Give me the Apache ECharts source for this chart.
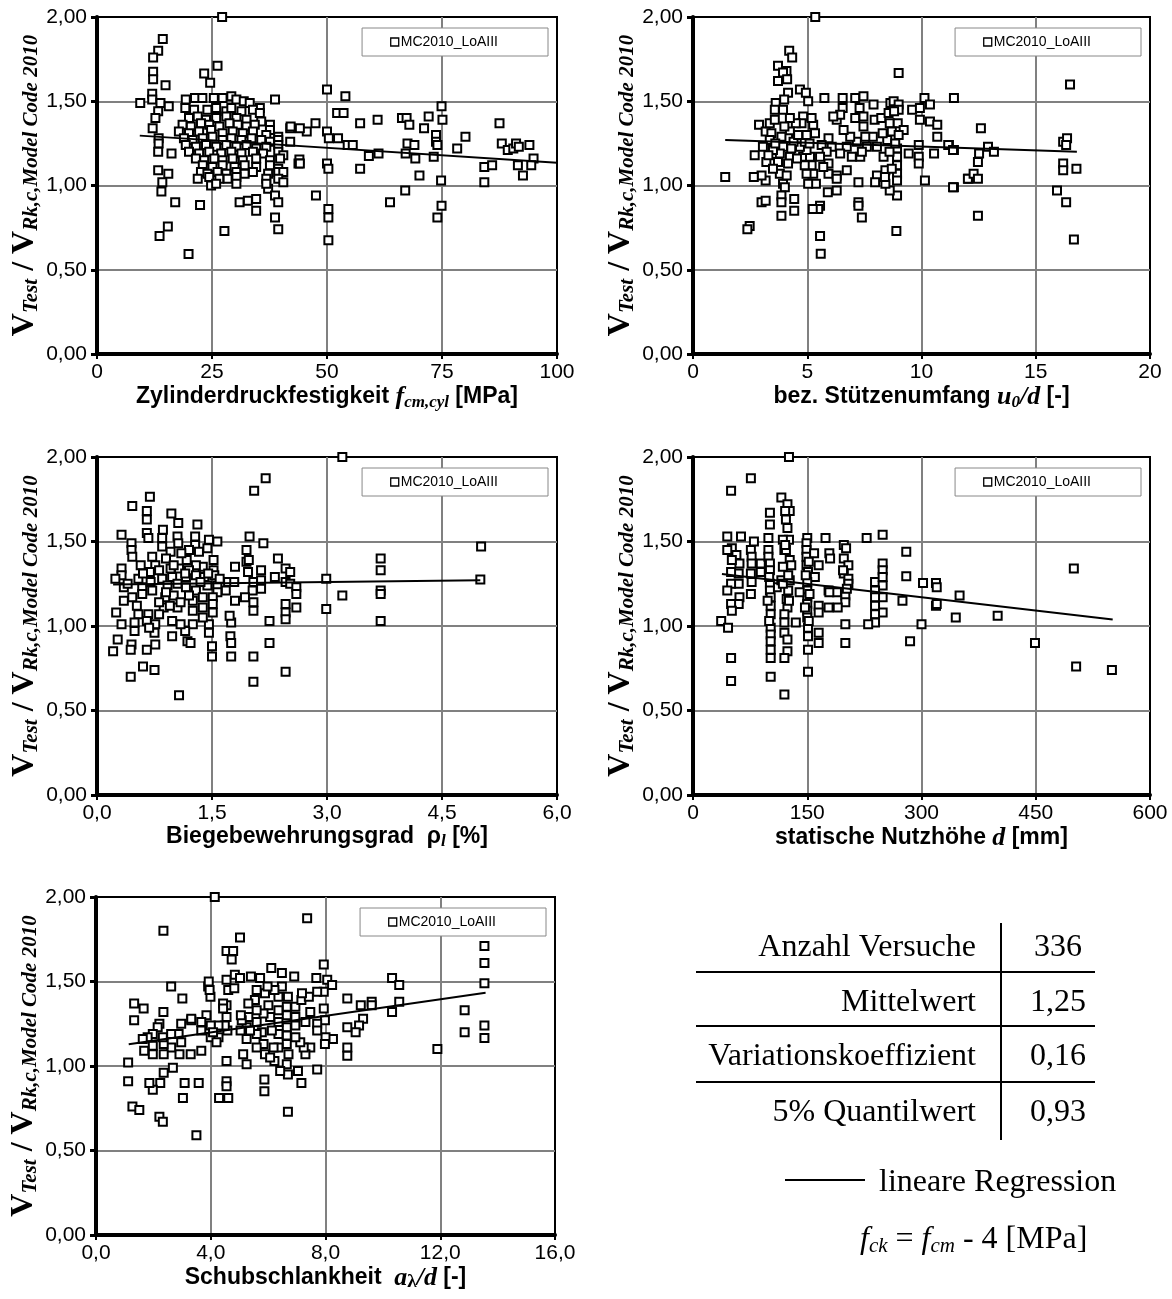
<!DOCTYPE html>
<html>
<head>
<meta charset="utf-8">
<script src="https://cdn.jsdelivr.net/npm/echarts@6/dist/echarts.min.js"></script>
<style>
  html, body { margin: 0; padding: 0; background: #fff; }
  #main { width: 1172px; height: 1299px; }
</style>
</head>
<body>
<div id="main"></div>
<script>
// V_Test / V_Rk,c over f_cm,cyl [MPa]
var fcmPoints = [
  [27.2,2.0],[14.3,1.87],[13.3,1.80],[12.2,1.76],[12.2,1.675],[12.2,1.63],[14.9,1.595],[23.3,1.665],[26.2,1.71],[24.6,1.61],
  [9.4,1.49],[12.0,1.545],[12.0,1.51],[13.8,1.49],[15.6,1.47],[13.3,1.44],[12.7,1.40],[12.1,1.34],[13.4,1.28],[13.4,1.25],
  [13.3,1.20],[16.2,1.19],[13.3,1.09],[15.5,1.07],[14.2,1.02],[14.0,0.965],[17.0,0.90],[22.4,0.885],[15.4,0.756],[13.6,0.70],
  [19.9,0.594],[27.7,0.73],[38.7,1.51],[42.0,1.34],[42.0,1.26],[44.0,1.155],[43.8,1.13],[31.0,0.90],[32.8,0.91],[34.6,0.92],
  [34.6,0.85],[37.2,0.98],[38.7,0.94],[39.4,0.90],[38.7,0.81],[39.4,0.74],[47.6,0.94],
  [19.3,1.51],[21.3,1.52],[22.9,1.52],[25.4,1.52],[27.3,1.52],[29.2,1.53],[30.3,1.51],[31.9,1.50],[33.2,1.49],[35.4,1.46],
  [19.2,1.46],[21.1,1.45],[24.0,1.45],[25.9,1.46],[28.1,1.44],[29.2,1.46],[31.4,1.44],[33.9,1.45],[35.4,1.43],
  [20.0,1.40],[21.9,1.41],[23.7,1.39],[25.9,1.40],[28.1,1.41],[30.3,1.40],[32.5,1.39],[35.7,1.38],[37.6,1.36],
  [18.6,1.36],[20.4,1.35],[22.6,1.37],[24.4,1.36],[26.6,1.35],[28.8,1.37],[30.6,1.36],[32.5,1.35],[34.3,1.36],[37.6,1.33],
  [17.8,1.32],[20.0,1.31],[22.2,1.32],[24.8,1.33],[27.3,1.31],[29.5,1.32],[31.7,1.31],[33.9,1.32],[36.8,1.30],[39.4,1.29],
  [18.9,1.28],[20.8,1.27],[23.0,1.28],[25.1,1.29],[27.3,1.27],[29.2,1.28],[31.4,1.27],[33.6,1.28],[35.7,1.27],[37.6,1.26],[39.4,1.27],
  [19.3,1.24],[21.5,1.23],[23.7,1.24],[25.9,1.23],[28.1,1.24],[30.3,1.23],[32.5,1.24],[34.6,1.22],[36.8,1.23],[39.4,1.24],
  [20.0,1.20],[22.2,1.19],[24.4,1.20],[27.0,1.19],[29.2,1.20],[31.4,1.19],[33.9,1.20],[36.1,1.19],[39.4,1.20],[40.5,1.18],
  [21.5,1.16],[23.3,1.15],[25.5,1.16],[27.3,1.15],[29.5,1.16],[31.7,1.15],[34.6,1.16],[37.6,1.15],[39.8,1.16],
  [23.0,1.12],[25.1,1.11],[27.3,1.12],[29.9,1.11],[32.1,1.12],[34.6,1.11],[37.6,1.12],[39.4,1.10],
  [22.6,1.08],[24.0,1.07],[26.2,1.08],[28.1,1.07],[30.3,1.08],[32.1,1.07],[33.9,1.08],[37.2,1.07],[39.4,1.08],[40.5,1.08],
  [21.9,1.04],[24.4,1.05],[26.6,1.04],[28.4,1.04],[30.3,1.05],[36.8,1.04],[39.4,1.04],[40.5,1.02],
  [24.8,1.00],[25.9,1.01],[30.3,1.01],[36.8,1.01],
  [50.0,1.57],[54.0,1.53],[52.2,1.43],[53.6,1.43],[52.4,1.28],[54.5,1.24],[55.6,1.24],[57.2,1.37],[59.1,1.175],[61.2,1.19],
  [61.0,1.39],[57.2,1.10],[63.7,0.90],[66.3,1.40],[67.3,1.40],[67.9,1.36],[67.5,1.25],[67.1,1.19],[69.0,1.24],[69.2,1.16],
  [67.0,0.97],[70.1,1.06],[71.1,1.34],[72.1,1.41],[73.2,1.17],[73.7,1.30],[73.7,1.26],[74.0,1.24],[74.9,1.47],[75.1,1.39],
  [74.8,1.03],[74.9,0.88],[74.0,0.81],[78.3,1.22],[80.1,1.29],[84.2,1.11],[84.2,1.02],[85.9,1.12],[87.5,1.37],[88.0,1.25],
  [89.3,1.21],[90.5,1.22],[91.1,1.25],[91.5,1.12],[92.6,1.06],[91.7,1.23],[94.0,1.24],[94.9,1.16],[94.4,1.12],[47.5,1.37],
  [45.6,1.32],[44.1,1.34],[42.1,1.35],[44.1,1.13],[50.0,1.13],[50.3,1.10],[50.3,0.86],[50.3,0.81],[50.3,0.675],[50.0,1.32],[50.4,1.28]
];
// over u0/d [-]
var u0dPoints = [
  [5.35,2.0],[4.21,1.80],[4.34,1.76],[3.72,1.71],[4.09,1.68],[3.94,1.67],[4.12,1.63],[3.72,1.62],[9.0,1.667],[4.68,1.57],
  [4.94,1.55],[5.04,1.50],[4.16,1.55],[3.99,1.51],[3.62,1.49],[3.58,1.45],[3.94,1.45],[2.89,1.36],[3.18,1.32],[5.75,1.52],
  [6.55,1.52],[6.55,1.46],[7.1,1.52],[7.46,1.53],[7.9,1.48],[7.29,1.46],[7.1,1.40],[7.46,1.41],[7.95,1.39],[8.24,1.40],
  [8.64,1.49],[8.78,1.50],[9.0,1.48],[9.0,1.45],[8.56,1.43],[8.61,1.37],[8.96,1.37],[9.22,1.33],[9.59,1.45],[9.93,1.46],
  [9.93,1.39],[10.13,1.52],[10.37,1.48],[10.37,1.38],[10.69,1.36],[10.69,1.29],[11.42,1.52],[11.2,1.24],[11.42,1.21],[12.05,1.04],
  [11.42,0.99],[10.15,1.03],[10.55,1.19],[9.88,1.17],[9.88,1.13],[9.88,1.24],[9.44,1.19],[8.93,1.22],[8.93,1.17],[8.93,1.12],
  [8.93,1.07],[8.93,1.03],[8.93,0.94],[8.9,0.73],[8.61,0.97],[8.42,1.01],[8.42,1.09],[8.05,1.06],[7.97,1.02],[8.34,1.17],
  [8.05,1.23],[7.87,1.29],[7.61,1.23],[7.32,1.17],[6.95,1.17],[7.39,1.20],[7.17,1.26],[6.88,1.29],[6.59,1.33],[6.29,1.39],
  [6.44,1.42],[6.14,1.41],[6.73,1.23],[6.44,1.19],[6.07,1.23],[5.93,1.28],[5.63,1.24],[5.93,1.13],[5.93,1.07],[6.29,1.06],
  [6.29,0.97],[5.9,0.96],[7.24,1.02],[7.24,0.90],[7.24,0.88],[7.39,0.81],[5.56,0.88],[5.48,0.86],[5.24,0.86],[5.56,0.70],
  [5.59,0.595],[5.38,1.01],[5.26,1.07],[5.19,1.12],[4.97,1.07],[4.89,1.12],[4.82,1.17],[5.12,1.17],[4.97,1.21],[4.68,1.23],
  [4.89,1.26],[4.97,1.30],[5.34,1.31],[5.26,1.36],[5.19,1.40],[4.82,1.41],[4.75,1.37],[4.5,1.37],[4.24,1.32],[4.16,1.28],
  [3.87,1.29],[3.94,1.23],[3.8,1.19],[3.72,1.14],[3.8,1.07],[3.94,1.01],[4.02,0.99],[3.87,0.94],[3.87,0.90],[3.87,0.82],
  [4.43,0.92],[4.43,0.85],[3.21,1.14],[3.18,1.03],[3.0,1.06],[2.7,1.18],[2.66,1.05],[3.0,0.90],[3.18,0.91],[2.48,0.76],
  [2.38,0.74],[1.41,1.05],[3.36,1.37],[3.43,1.31],[3.58,1.39],[4.24,1.40],[4.4,1.26],[3.36,1.27],[3.06,1.23],[3.5,1.21],
  [4.24,1.17],[4.16,1.13],[5.04,1.01],[6.29,1.04],[6.73,1.09],[5.85,1.20],[5.56,1.17],[5.7,1.11],[7.46,1.35],[7.54,1.29],
  [8.8,1.44],[8.7,1.32],[8.5,1.27],[8.85,1.25],[9.0,1.30],[8.6,1.20],[8.3,1.31],[8.7,1.10],[8.4,1.05],
  [3.3,1.18],[3.6,1.25],[4.0,1.35],[4.3,1.22],[4.6,1.30],[4.55,1.16],[5.1,1.25],[3.5,1.10],[4.1,1.06],
  [11.17,1.24],[11.38,1.21],[11.38,0.99],[12.03,1.04],[12.28,1.07],[12.47,1.04],[12.47,1.14],[12.52,1.19],[12.6,1.34],[12.91,1.23],
  [13.17,1.20],[12.47,0.82],[15.93,0.97],[16.2,1.26],[16.37,1.28],[16.33,1.24],[16.2,1.13],[16.2,1.09],[16.33,0.90],[16.5,1.60],
  [16.78,1.10],[16.67,0.68]
];
// over rho_l [%]
var rhoPoints = [
  [3.2,2.0],[2.20,1.875],[2.05,1.80],[0.69,1.765],[0.46,1.71],[0.65,1.68],[0.65,1.63],[0.97,1.665],[1.06,1.61],[1.31,1.60],
  [0.86,1.57],[0.32,1.54],[1.99,1.53],[2.17,1.49],[1.95,1.45],[2.36,1.40],[0.45,1.49],[0.45,1.45],[0.46,1.41],[0.65,1.55],
  [0.67,1.52],[0.85,1.52],[0.85,1.47],[1.05,1.53],[1.06,1.49],[0.96,1.44],[1.28,1.53],[1.28,1.48],[1.46,1.51],[1.57,1.50],
  [1.44,1.46],[1.33,1.44],[1.20,1.45],[1.17,1.39],[1.52,1.39],[1.52,1.33],[1.38,1.35],[1.29,1.36],[0.57,1.36],[0.72,1.41],
  [0.76,1.36],[0.81,1.33],[0.69,1.32],[0.32,1.34],[0.32,1.30],[0.24,1.28],[0.35,1.23],[0.54,1.28],[0.59,1.23],[0.85,1.28],
  [0.98,1.29],[0.96,1.34],[1.07,1.34],[1.16,1.29],[1.20,1.33],[1.29,1.30],[1.40,1.29],[1.53,1.30],[0.92,1.24],[1.05,1.25],
  [1.16,1.23],[1.29,1.21],[1.44,1.24],[1.57,1.24],[1.71,1.26],[1.79,1.26],[1.80,1.35],[1.95,1.38],[1.98,1.39],[1.97,1.32],
  [2.04,1.26],[2.14,1.33],[2.14,1.27],[2.14,1.22],[2.32,1.29],[2.46,1.34],[2.52,1.32],[2.46,1.26],[2.52,1.25],[2.60,1.23],
  [2.60,1.19],[2.60,1.11],[2.46,1.13],[2.46,1.08],[2.46,1.04],[2.25,1.03],[2.25,0.90],[2.46,0.73],[2.99,1.28],[3.2,1.18],
  [2.99,1.10],[2.03,1.21],[1.93,1.17],[2.04,1.14],[2.04,1.09],[2.04,0.82],[2.04,0.67],[1.80,1.15],[1.75,1.02],[1.73,1.06],
  [1.74,0.94],[1.75,0.90],[1.75,0.82],[1.68,1.21],[1.57,1.20],[1.51,1.17],[1.51,1.13],[1.51,1.08],[1.46,1.01],[1.46,0.96],
  [1.50,0.88],[1.50,0.82],[1.38,1.17],[1.38,1.11],[1.25,1.15],[1.25,1.01],[1.18,0.91],[1.22,0.90],[1.15,0.97],[1.09,1.01],
  [1.05,1.11],[0.98,1.03],[0.98,0.94],[0.89,1.17],[0.87,1.11],[0.81,1.07],[0.76,1.01],[0.75,0.96],[0.76,0.89],[0.75,0.74],
  [0.67,1.07],[0.65,1.03],[0.68,0.99],[0.65,0.86],[0.60,0.76],[0.45,0.89],[0.44,0.86],[0.44,0.70],[0.54,1.07],[0.49,1.02],
  [0.49,0.97],[0.32,1.01],[0.27,0.92],[0.21,0.85],[0.25,1.08],[0.35,1.15],[0.46,1.17],[0.59,1.19],[0.52,1.12],[1.07,0.59],
  [1.0,1.18],[1.09,1.14],[1.25,1.09],[1.38,1.05],[0.81,1.14],[0.72,1.21],
  [0.9,1.40],[1.1,1.43],[1.0,1.36],[1.15,1.31],[0.7,1.26],[0.6,1.31],[0.4,1.25],[0.9,1.20],[1.35,1.26],[1.45,1.31],
  [1.6,1.28],[1.2,1.18],[0.95,1.12],
  [3.70,1.40],[3.70,1.33],[3.70,1.21],[3.70,1.19],[3.70,1.03],[5.01,1.47],[5.0,1.275]
];
// over d [mm]
var dPoints = [
  [126,2.0],[76,1.875],[50,1.80],[116,1.76],[124,1.72],[127,1.68],[121,1.68],[122,1.63],[101,1.67],[101,1.60],
  [124,1.58],[45,1.53],[63,1.53],[80,1.50],[99,1.52],[126,1.51],[118,1.51],[150,1.52],[174,1.52],[228,1.52],
  [249,1.54],[280,1.44],[280,1.295],[300,1.01],[285,0.91],[302,1.255],[319,1.255],[319,1.12],[51,1.46],[57,1.42],
  [76,1.45],[77,1.41],[89,1.37],[99,1.45],[99,1.41],[101,1.37],[101,1.33],[120,1.45],[127,1.39],[129,1.36],
  [118,1.35],[149,1.49],[149,1.45],[149,1.41],[149,1.36],[151,1.32],[159,1.43],[165,1.36],[179,1.43],[180,1.40],
  [198,1.48],[201,1.46],[198,1.40],[204,1.36],[198,1.31],[204,1.28],[204,1.25],[239,1.26],[249,1.37],[249,1.33],
  [249,1.29],[249,1.24],[249,1.17],[249,1.08],[239,1.21],[239,1.17],[239,1.12],[239,1.07],[239,1.02],[230,1.01],
  [275,1.15],[200,1.18],[200,1.14],[200,1.01],[200,0.90],[190,1.11],[178,1.21],[178,1.11],[165,1.12],[165,1.08],
  [165,0.96],[165,0.90],[160,1.29],[150,1.26],[150,1.21],[150,1.17],[150,1.13],[150,1.09],[150,1.05],[151,0.99],
  [151,0.94],[151,0.86],[151,0.73],[135,1.02],[140,1.20],[127,1.27],[125,1.21],[123,1.16],[124,1.11],[120,1.07],
  [120,1.02],[120,0.96],[124,0.92],[124,0.85],[120,0.81],[120,0.595],[110,1.23],[116,1.27],[101,1.25],[101,1.21],
  [102,1.17],[102,1.12],[102,1.07],[102,0.99],[102,0.95],[102,0.91],[102,0.86],[102,0.81],[102,0.70],[89,1.32],
  [77,1.37],[76,1.31],[77,1.26],[76,1.19],[61,1.37],[60,1.31],[60,1.25],[61,1.17],[60,1.13],[50,1.32],
  [50,1.25],[45,1.21],[50,1.13],[51,1.09],[37,1.03],[46,0.99],[50,0.81],[50,0.675],[45,1.45],[51,1.39],
  [189,1.20],[179,1.20],
  [152,1.38],[148,1.30],[153,1.19],[147,1.11],[152,1.03],[122,1.45],[125,1.30],[118,1.25],[126,1.15],[121,1.48],
  [100,1.29],[98,1.15],[100,1.03],[202,1.22],[197,1.33],
  [320,1.23],[320,1.13],[350,1.18],[345,1.05],[400,1.06],[449,0.90],[500,1.34],[503,0.76],[550,0.74]
];
// over a_lambda/d [-]
var adPoints = [
  [4.14,2.0],[7.36,1.875],[2.35,1.80],[5.02,1.76],[4.55,1.68],[4.78,1.68],[4.73,1.63],[7.94,1.60],[2.62,1.47],[1.33,1.37],
  [1.66,1.34],[1.33,1.27],[2.35,1.32],[3.01,1.40],[3.32,1.27],[3.91,1.47],[3.93,1.50],[3.99,1.41],[3.85,1.30],[4.55,1.51],
  [4.61,1.45],[4.82,1.46],[4.84,1.54],[5.02,1.52],[5.40,1.53],[5.72,1.52],[6.11,1.58],[6.48,1.55],[6.91,1.53],[7.68,1.52],
  [8.06,1.51],[8.23,1.48],[10.32,1.52],[10.57,1.48],[10.57,1.38],[10.32,1.32],[9.61,1.38],[9.61,1.36],[9.23,1.36],[9.31,1.28],
  [9.17,1.24],[9.05,1.20],[8.76,1.40],[8.76,1.23],[8.76,1.11],[8.76,1.06],[8.26,1.16],[8.0,1.17],[7.98,1.13],[7.98,1.27],
  [7.94,1.34],[7.94,1.44],[7.71,1.25],[7.71,1.21],[7.71,0.98],[7.47,1.11],[7.30,1.07],[7.24,1.11],[7.12,1.14],[6.95,1.17],
  [6.95,1.24],[6.95,1.29],[6.95,1.35],[7.16,1.39],[7.42,1.41],[7.47,1.32],[7.30,1.26],[6.69,1.41],[6.65,1.35],[6.65,1.30],
  [6.65,1.23],[6.65,1.18],[6.65,1.13],[6.71,1.07],[6.65,1.01],[6.69,0.95],[7.04,0.97],[7.16,0.90],[6.69,0.73],[6.48,1.47],
  [6.36,1.41],[6.36,1.33],[6.36,1.26],[6.36,1.19],[6.36,1.11],[6.42,0.97],[6.22,1.03],[6.19,1.11],[6.13,1.21],[6.07,1.29],
  [6.01,1.36],[5.89,1.43],[6.22,1.45],[5.84,1.31],[5.78,1.20],[5.84,1.13],[5.89,1.07],[6.07,1.05],[5.87,0.92],[5.87,0.85],
  [5.60,1.45],[5.54,1.39],[5.60,1.33],[5.60,1.26],[5.60,1.19],[5.60,1.11],[5.31,1.37],[5.31,1.29],[5.25,1.23],[5.25,1.16],
  [5.25,1.01],[5.13,1.07],[5.08,1.27],[5.37,1.21],[5.04,1.21],[4.58,1.21],[4.55,1.29],[4.55,1.36],[4.49,1.24],[4.43,1.37],
  [4.27,1.24],[4.0,1.24],[4.0,1.17],[4.27,1.17],[4.55,1.03],[4.55,0.91],[4.55,0.88],[4.61,0.81],[4.29,0.81],[3.58,0.90],
  [3.50,0.59],[3.09,0.90],[3.03,0.81],[3.67,1.09],[3.30,1.07],[2.91,1.07],[2.97,1.14],[2.88,1.19],[2.62,1.19],[2.62,1.11],
  [2.68,0.99],[2.36,1.07],[2.36,1.13],[2.33,1.17],[2.21,1.25],[2.15,1.23],[1.98,1.19],[1.98,1.12],[1.98,1.07],[1.80,1.17],
  [1.68,1.09],[1.63,1.16],[2.36,0.96],[2.24,0.90],[1.98,0.86],[1.86,0.90],[1.12,1.02],[1.12,0.91],[1.27,0.76],[1.51,0.74],
  [2.21,0.70],[2.33,0.67],[3.67,1.21],[4.08,1.20],[4.20,1.14],[3.67,1.26],[2.97,1.25],[3.32,1.28],[3.96,1.45],[4.43,1.34],
  [5.05,1.30],[5.98,1.47],[7.18,1.43],[7.71,1.44],
  [11.9,1.10],[12.85,1.33],[12.85,1.20],[13.54,1.71],[13.54,1.61],[13.54,1.49],[13.54,1.24],[13.54,1.165]
];

// Regressionsgeraden (Endpunkte)
var fcmRegression = [[9.3,1.296],[100,1.135]];
var u0dRegression = [[1.41,1.27],[16.8,1.20]];
var rhoRegression = [[0.21,1.245],[5.0,1.27]];
var dRegression = [[38,1.307],[551,1.038]];
var adRegression = [[1.14,1.129],[13.58,1.433]];

var seriesName = 'MC2010_LoAIII';
var yTicks = { min: 0, max: 2, interval: 0.5 };
var xTicks = [
  { min: 0, max: 100, interval: 25, dec: 0 },
  { min: 0, max: 20, interval: 5, dec: 0 },
  { min: 0, max: 6, interval: 1.5, dec: 1 },
  { min: 0, max: 600, interval: 150, dec: 0 },
  { min: 0, max: 16, interval: 4, dec: 1 }
];
var xNames = [
  '{a|Zylinderdruckfestigkeit }{i|f}{s|cm,cyl}{a| [MPa]}',
  '{a|bez. Stützenumfang }{i|u}{s|0}{i|/d}{a| [-]}',
  '{a|Biegebewehrungsgrad  ρ}{s|l}{a| [%]}',
  '{a|statische Nutzhöhe }{i|d}{a| [mm]}',
  '{a|Schubschlankheit  }{i|a}{l|λ}{i|/d}{a| [-]}'
];
var points = [fcmPoints, u0dPoints, rhoPoints, dPoints, adPoints];
var regressions = [fcmRegression, u0dRegression, rhoRegression, dRegression, adRegression];

var grids = [
  { left: 97, top: 17, width: 460, height: 337 },
  { left: 693, top: 17, width: 457, height: 337 },
  { left: 97, top: 457, width: 460, height: 338 },
  { left: 693, top: 457, width: 457, height: 338 },
  { left: 96, top: 897, width: 459, height: 338 }
];
var legendPos = [
  { right: 624, top: 28 }, { right: 31, top: 28 },
  { right: 624, top: 468 }, { right: 31, top: 468 },
  { right: 626, top: 908 }
];

var sans = '"Liberation Sans", Arial, sans-serif';
var serif = '"Liberation Serif", "Times New Roman", serif';

var myChart = echarts.init(document.getElementById('main'));
var option = {
  animation: false,
  backgroundColor: '#fff',
  grid: [], xAxis: [], yAxis: [], legend: [], series: [], graphic: []
};

for (var i = 0; i < 5; i++) {
  option.grid.push({
    left: grids[i].left, top: grids[i].top, width: grids[i].width, height: grids[i].height,
    show: true, borderColor: '#000', borderWidth: 2, backgroundColor: '#fff'
  });
  (function (dec) {
    option.xAxis.push({
      gridIndex: i, type: 'value',
      min: xTicks[i].min, max: xTicks[i].max, interval: xTicks[i].interval,
      axisLine: { show: true, onZero: false, lineStyle: { color: '#000', width: 4 } },
      axisTick: { show: true, length: 5, lineStyle: { color: '#000', width: 2 } },
      axisLabel: {
        margin: 8, color: '#000', fontFamily: sans, fontSize: 21,
        formatter: function (v) { return v.toFixed(dec).replace('.', ','); }
      },
      splitLine: { show: true, showMinLine: false, showMaxLine: false, lineStyle: { color: '#808080', width: 2 } },
      name: xNames[i], nameLocation: 'middle', nameGap: 26,
      nameTextStyle: {
        rich: {
          a: { fontFamily: sans, fontWeight: 'bold', fontSize: 23, color: '#000', lineHeight: 28 },
          i: { fontFamily: serif, fontWeight: 'bold', fontStyle: 'italic', fontSize: 26, color: '#000', lineHeight: 28 },
          s: { fontFamily: serif, fontWeight: 'bold', fontStyle: 'italic', fontSize: 17, color: '#000', lineHeight: 17, verticalAlign: 'bottom' },
          l: { fontFamily: serif, fontWeight: 'bold', fontSize: 19, color: '#000', lineHeight: 19, verticalAlign: 'bottom' }
        }
      }
    });
  })(xTicks[i].dec);
  option.yAxis.push({
    gridIndex: i, type: 'value',
    min: yTicks.min, max: yTicks.max, interval: yTicks.interval,
    axisLine: { show: true, onZero: false, lineStyle: { color: '#000', width: 4 } },
    axisTick: { show: true, length: 6, lineStyle: { color: '#000', width: 3 } },
    axisLabel: {
      margin: 10, color: '#000', fontFamily: sans, fontSize: 21,
      formatter: function (v) { return v.toFixed(2).replace('.', ','); }
    },
    splitLine: { show: true, showMinLine: false, showMaxLine: false, lineStyle: { color: '#808080', width: 2 } },
    name: '{v|V}{s|Test}{v| / V}{s|Rk,c,Model Code 2010}',
    nameLocation: 'middle', nameRotate: 90, nameGap: 54,
    nameTextStyle: {
      rich: {
        v: { fontFamily: serif, fontWeight: 'bold', fontSize: 32, color: '#000', lineHeight: 34 },
        s: { fontFamily: serif, fontWeight: 'bold', fontStyle: 'italic', fontSize: 21, color: '#000', lineHeight: 21, verticalAlign: 'bottom' }
      }
    }
  });
  option.legend.push({
    data: [seriesName], right: legendPos[i].right, top: legendPos[i].top,
    backgroundColor: '#fff', borderColor: '#888', borderWidth: 1,
    padding: [7, 50, 7, 28], itemWidth: 8, itemHeight: 8, icon: 'rect',
    selectedMode: false, z: 10,
    itemStyle: { color: '#fff', borderColor: '#000', borderWidth: 1.3 },
    textStyle: { fontFamily: sans, fontSize: 14, color: '#000', padding: [0, 0, 0, -3] }
  });
  option.series.push({
    name: seriesName, type: 'scatter', xAxisIndex: i, yAxisIndex: i,
    data: points[i], symbol: 'rect', symbolSize: 8,
    itemStyle: { color: '#fff', borderColor: '#000', borderWidth: 2, opacity: 1 },
    emphasis: { disabled: true }, z: 2
  });
  option.series.push({
    name: 'lineare Regression ' + (i + 1), type: 'line', xAxisIndex: i, yAxisIndex: i,
    data: regressions[i], symbol: 'none',
    lineStyle: { color: '#000', width: 2 }, z: 3, silent: true
  });
}

// Kennwerte-Tabelle rechts unten
var tableLabels = ['Anzahl Versuche', 'Mittelwert', 'Variationskoeffizient', '5% Quantilwert'];
var tableValues = ['336', '1,25', '0,16', '0,93'];
var rowY = [948, 1003, 1057, 1113];
var tableFont = '32px ' + serif;
for (var r = 0; r < tableLabels.length; r++) {
  option.graphic.push({
    type: 'text', x: 976, y: rowY[r],
    style: { text: tableLabels[r], font: tableFont, fill: '#000', textAlign: 'right', textVerticalAlign: 'middle', align: 'right', verticalAlign: 'middle' }
  });
  option.graphic.push({
    type: 'text', x: 1058, y: rowY[r],
    style: { text: tableValues[r], font: tableFont, fill: '#000', textAlign: 'center', textVerticalAlign: 'middle', align: 'center', verticalAlign: 'middle' }
  });
}
[972, 1026, 1082].forEach(function (y) {
  option.graphic.push({ type: 'line', shape: { x1: 696, y1: y, x2: 1095, y2: y }, style: { stroke: '#000', lineWidth: 2 } });
});
option.graphic.push({ type: 'line', shape: { x1: 1001, y1: 923, x2: 1001, y2: 1140 }, style: { stroke: '#000', lineWidth: 2 } });
option.graphic.push({ type: 'line', shape: { x1: 785, y1: 1180, x2: 865, y2: 1180 }, style: { stroke: '#000', lineWidth: 2 } });
option.graphic.push({
  type: 'text', x: 879, y: 1183,
  style: { text: 'lineare Regression', font: tableFont, fill: '#000', textAlign: 'left', textVerticalAlign: 'middle', align: 'left', verticalAlign: 'middle' }
});
option.graphic.push({
  type: 'text', x: 860, y: 1240,
  style: {
    text: '{i|f}{s|ck}{n| = }{i|f}{s|cm}{n| - 4 [MPa]}',
    textAlign: 'left', textVerticalAlign: 'middle', align: 'left', verticalAlign: 'middle',
    rich: {
      i: { fontFamily: serif, fontStyle: 'italic', fontSize: 32, fill: '#000', lineHeight: 34 },
      s: { fontFamily: serif, fontStyle: 'italic', fontSize: 21, fill: '#000', lineHeight: 21, verticalAlign: 'bottom' },
      n: { fontFamily: serif, fontSize: 32, fill: '#000', lineHeight: 34 }
    }
  }
});

myChart.setOption(option);
</script>
</body>
</html>
